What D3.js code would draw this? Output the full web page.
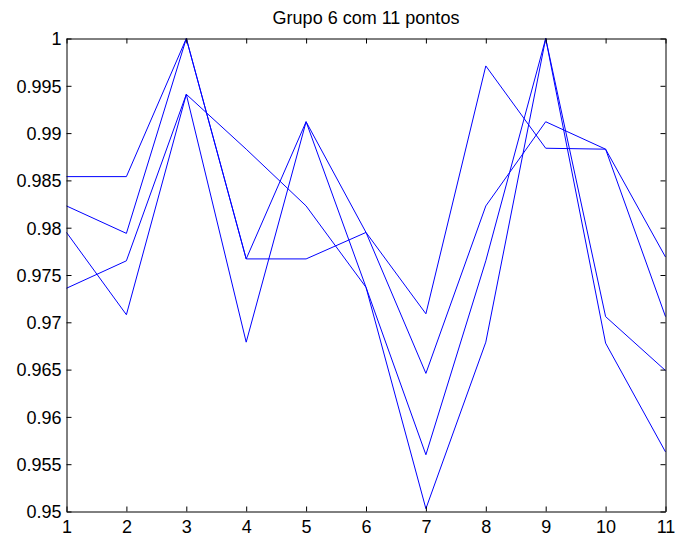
<!DOCTYPE html>
<html>
<head>
<meta charset="utf-8">
<script src="https://cdn.jsdelivr.net/npm/d3@7"></script>
<style>
  html, body { margin: 0; padding: 0; background: #fff; }
  svg text { font-family: "Liberation Sans", Arial, Helvetica, sans-serif; fill: #000; }
</style>
</head>
<body>
<svg id="chart" width="675" height="540"></svg>
<script>
const title = "Grupo 6 com 11 pontos";
const xValues = [1, 2, 3, 4, 5, 6, 7, 8, 9, 10, 11];
const series1 = [0.9854, 0.9854, 1.0000, 0.9767, 0.9767, 0.9795, 0.9709, 0.9971, 0.9884, 0.9883, 0.9769];
const series2 = [0.9823, 0.9794, 1.0000, 0.9767, 0.9912, 0.9795, 0.9646, 0.9823, 0.9912, 0.9883, 0.9706];
const series3 = [0.9736, 0.9765, 0.9941, 0.9883, 0.9823, 0.9737, 0.9560, 0.9765, 1.0000, 0.9706, 0.9649];
const series4 = [0.9795, 0.9708, 0.9941, 0.9679, 0.9912, 0.9737, 0.9503, 0.9679, 1.0000, 0.9678, 0.9563];
const xTicks = [1, 2, 3, 4, 5, 6, 7, 8, 9, 10, 11];
const yTicks = [0.95, 0.955, 0.96, 0.965, 0.97, 0.975, 0.98, 0.985, 0.99, 0.995, 1];
const yTickLabels = ["0.95", "0.955", "0.96", "0.965", "0.97", "0.975", "0.98", "0.985", "0.99", "0.995", "1"];

(function () {
const svg = d3.select("#chart");
const mLeft = 66.5, mRight = 665.5, mTop = 38.5, mBottom = 511.5;
const x = d3.scaleLinear().domain([1, 11]).range([mLeft, mRight]);
const y = d3.scaleLinear().domain([0.95, 1]).range([mBottom, mTop]);
const fontSize = 18;
const tickLen = 5;

const line = d3.line().x((d, i) => x(xValues[i])).y(d => y(d));
[series1, series2, series3, series4].forEach(s => {
  svg.append("path").datum(s)
    .attr("d", line)
    .attr("fill", "none")
    .attr("stroke", "#0000ff")
    .attr("stroke-width", 1);
});

const bottomAxis = d3.axisBottom(x).tickValues(xTicks).tickFormat(d3.format("d")).tickSizeInner(-tickLen).tickSizeOuter(0);
const gB = svg.append("g").attr("transform", `translate(0,${mBottom})`).call(bottomAxis);
const topAxis = d3.axisTop(x).tickValues(xTicks).tickFormat("").tickSizeInner(-tickLen).tickSizeOuter(0);
const gT = svg.append("g").attr("transform", `translate(0,${mTop})`).call(topAxis);
const leftAxis = d3.axisLeft(y).tickValues(yTicks).tickFormat((d, i) => yTickLabels[i]).tickSizeInner(-tickLen).tickSizeOuter(0);
const gL = svg.append("g").attr("transform", `translate(${mLeft},0)`).call(leftAxis);
const rightAxis = d3.axisRight(y).tickValues(yTicks).tickFormat("").tickSizeInner(-tickLen).tickSizeOuter(0);
const gR = svg.append("g").attr("transform", `translate(${mRight},0)`).call(rightAxis);

[gB, gT, gL, gR].forEach(g => {
  g.select(".domain").attr("stroke", "#000").attr("stroke-width", 1);
  g.selectAll(".tick line").attr("stroke", "#000").attr("stroke-width", 1);
  g.selectAll("text").style("font-size", fontSize + "px").attr("fill", "#000")
    .style("font-family", "'Liberation Sans', Arial, sans-serif");
});
gB.selectAll("text").attr("dy", "0.71em").attr("y", 9);
gL.selectAll("text").attr("x", -5).attr("dy", "0.35em");

svg.append("text")
  .attr("x", (mLeft + mRight) / 2)
  .attr("y", 24)
  .attr("text-anchor", "middle")
  .style("font-size", fontSize + "px")
  .text(title);
})();
</script>
</body>
</html>
